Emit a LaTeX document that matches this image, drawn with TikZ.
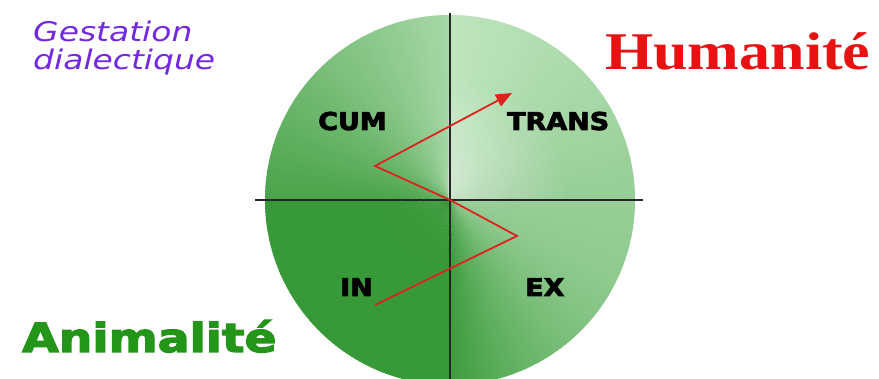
\documentclass[tikz,border=0pt]{standalone}
\usepackage{fontspec}
\setmainfont{DejaVu Sans}
\newfontfamily\heavyfont{DejaVu Sans Bold}[FakeBold=3]
\newfontfamily\humfont{Liberation Serif Bold}
\usetikzlibrary{arrows.meta}
\definecolor{darkg}{RGB}{50,150,50}
\definecolor{lightg}{RGB}{222,246,222}
\definecolor{zigred}{RGB}{220,35,30}
\definecolor{animal}{RGB}{35,150,25}
\definecolor{human}{RGB}{232,18,18}
\definecolor{gestpurple}{RGB}{115,40,225}
\tikzset{
  quadlabel/.style={font=\fontsize{24.5}{24.5}\heavyfont, text=black, inner sep=0pt, anchor=base west, xscale=1.1},
  axis/.style={draw=black!85, line width=1.1pt},
  zig/.style={draw=zigred, line width=1.8pt, line join=miter},
  gesttext/.style={font=\fontsize{27}{27}\selectfont\itshape, text=gestpurple, inner sep=0pt, anchor=base west, xscale=1.22},
}
\begin{document}
\begin{tikzpicture}[x=1pt,y=-1pt]
\useasboundingbox (0,0) rectangle (879,379);
\fill[white] (0,0) rectangle (879,379);
\coordinate (C) at (450,200);
% shaded disc
\begin{scope}
\clip (C) circle (185);
\foreach \a in {0,...,359}{
  \pgfmathsetmacro\p{\a<90 ? 58-52*(\a/90)^2 : (\a<180 ? 3 : (\a<270 ? 14+54*(\a-180)/90 : 82-24*(\a-270)/90))}
  \fill[lightg!\p!darkg] (C) -- ++(\a:192) -- ++(\a+90:5) -- cycle;
}
\begin{scope}
\clip (448,201) rectangle (640,10);
\foreach \r in {110,102,...,6}{
  \fill[white, opacity=0.04] (452,196) circle (\r);
}
\end{scope}
\end{scope}
% axes
\coordinate (hl) at (255,200);
\coordinate (hr) at (643,200);
\coordinate (vt) at (450,13);
\coordinate (vb) at (450,379);
\draw[axis] (hl) -- (hr);
\draw[axis] (vt) -- (vb);
% labels
\node[quadlabel] (cum) at (318,130) {CUM};
\node[quadlabel] (trans) at (507,130) {TRANS};
\node[quadlabel] (in) at (340,296) {IN};
\node[quadlabel] (ex) at (525,296) {EX};
% zigzag
\coordinate (z0) at (375,305);
\coordinate (z1) at (517,236);
\coordinate (z2) at (450,200);
\coordinate (z3) at (375,166);
\coordinate (z4) at (512,93);
\draw[zig, -{Triangle[length=16pt,width=13pt]}] (z0) -- (z1) -- (z2) -- (z3) -- (z4);
% titles
\node[gesttext] (gest) at (33,42) {Gestation};
\node[gesttext] (dial) at (33,70) {dialectique};
\node[font=\fontsize{53}{53}\humfont, text=human, inner sep=0pt, anchor=base west, xscale=1.17] (hum) at (605,70) {Humanité};
\node[font=\fontsize{40}{40}\heavyfont, text=animal, inner sep=0pt, anchor=base west, xscale=1.18] (ani) at (22,352) {Animalité};
\end{tikzpicture}
\end{document}
